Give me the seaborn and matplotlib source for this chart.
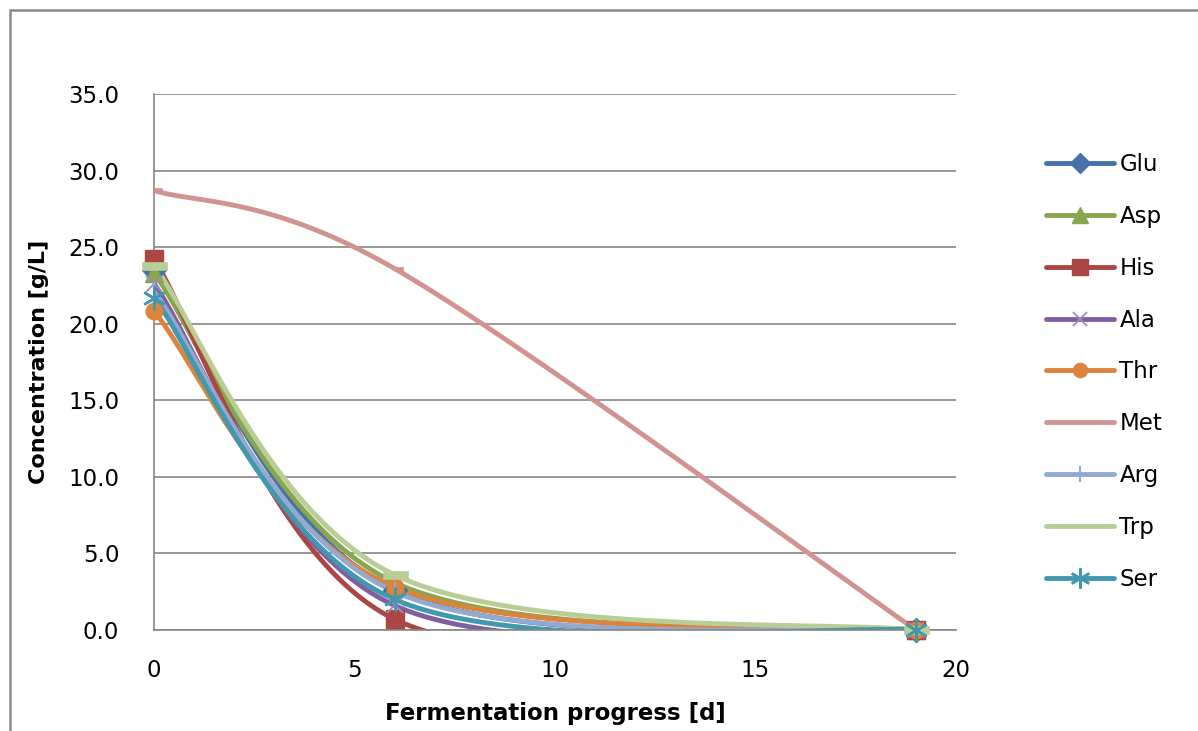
import numpy as np
import matplotlib
matplotlib.use("Agg")
import matplotlib.pyplot as plt
from matplotlib.lines import Line2D
from matplotlib.patches import Rectangle
import seaborn as sns

# Amino acid concentrations over the fermentation
days = [0, 6, 19]
series_names = ["Glu", "Asp", "His", "Ala", "Thr", "Met", "Arg", "Trp", "Ser"]
glu = [23.5, 2.6, 0.0]
asp = [23.3, 3.1, 0.0]
his = [24.2, 0.7, 0.0]
ala = [22.6, 1.6, 0.0]
thr = [20.8, 2.8, 0.0]
met = [28.7, 23.6, 0.0]
arg = [22.1, 2.5, 0.0]
trp = [23.8, 3.6, 0.0]
ser = [21.7, 2.0, 0.0]
series_values = [glu, asp, his, ala, thr, met, arg, trp, ser]
y_ticks = [0, 5, 10, 15, 20, 25, 30, 35]
x_ticks = [0, 5, 10, 15, 20]

colors = ["#4572A7", "#89A54E", "#AA4643", "#7E5FA0", "#DB843D",
          "#D19392", "#93A9CF", "#B9CD96", "#4198AF"]

dash_right = [(0, -0.25), (1, -0.25), (1, 0.25), (0, 0.25), (0, -0.25)]
dash_long = [(-1, -0.3), (1, -0.3), (1, 0.3), (-1, 0.3), (-1, -0.3)]
marker_styles = [
    dict(marker="D", ms=12, mfc=colors[0], mec=colors[0], mew=1),
    dict(marker="^", ms=13, mfc=colors[1], mec=colors[1], mew=1),
    dict(marker="s", ms=13, mfc=colors[2], mec=colors[2], mew=1),
    dict(marker="x", ms=12, mfc="none", mec="#9E8BC0", mew=1.3),
    dict(marker="o", ms=12, mfc=colors[4], mec=colors[4], mew=1),
    dict(marker=dash_right, ms=11, mfc=colors[5], mec=colors[5], mew=0.5),
    dict(marker="|", ms=14, mfc=colors[6], mec=colors[6], mew=1.5),
    dict(marker=dash_long, ms=18, mfc=colors[7], mec=colors[7], mew=0.5),
    dict(marker=(6, 2, 0), ms=17, mfc=colors[8], mec=colors[8], mew=1.8),
]
legend_markers = [True, True, True, True, True, False, True, False, True]

sns.set_style("white")
plt.rcParams["font.family"] = ["DejaVu Sans"]
plt.rcParams["text.color"] = "black"
plt.rcParams["axes.labelcolor"] = "black"

W, H = 1198, 731
fig = plt.figure(figsize=(W / 100, H / 100), dpi=100)
left, right, top, bottom = 154, 956, 94, 630
ax = fig.add_axes([left / W, 1 - bottom / H, (right - left) / W, (bottom - top) / H])

xmin, xmax, ymin, ymax = 0, 20, 0, 35
ax.set_xlim(xmin, xmax)
ax.set_ylim(ymin, ymax)
sx = (right - left) / (xmax - xmin)
sy = (bottom - top) / (ymax - ymin)


def smooth_curve(xs, ys, n=80):
    """Bezier smoothing through the points, computed in screen proportions."""
    P = np.column_stack([np.asarray(xs, float) * sx, np.asarray(ys, float) * sy])
    parts = []
    t = np.linspace(0, 1, n)[:, None]
    for i in range(len(P) - 1):
        p0 = P[i - 1] if i > 0 else P[i]
        p1, p2 = P[i], P[i + 1]
        p3 = P[i + 2] if i + 2 < len(P) else P[i + 1]
        c1 = p1 + (p2 - p0) / 6
        c2 = p2 - (p3 - p1) / 6
        seg = (1 - t) ** 3 * p1 + 3 * (1 - t) ** 2 * t * c1 + 3 * (1 - t) * t ** 2 * c2 + t ** 3 * p2
        parts.append(seg if i == 0 else seg[1:])
    out = np.vstack(parts)
    return out[:, 0] / sx, out[:, 1] / sy


lw = 3.5
for name, vals, col, ms in zip(series_names, series_values, colors, marker_styles):
    cx, cy = smooth_curve(days, vals)
    sns.lineplot(x=cx, y=cy, sort=False, estimator=None, color=col, lw=lw,
                 ax=ax, legend=False, solid_capstyle="round")
    ax.plot(days, vals, ls="none", clip_on=False, zorder=3, **ms)

grid_col = "#868686"
ax.set_yticks(y_ticks)
ax.set_xticks(x_ticks)
ax.set_yticklabels([f"{v:.1f}" for v in y_ticks])
ax.set_xticklabels([str(v) for v in x_ticks])
ax.yaxis.grid(True, color=grid_col, lw=1.2)
ax.xaxis.grid(False)
ax.set_axisbelow(True)
for s in ["top", "right"]:
    ax.spines[s].set_visible(False)
for s in ["left", "bottom"]:
    ax.spines[s].set_color(grid_col)
    ax.spines[s].set_linewidth(1.2)
ax.tick_params(axis="both", direction="out", length=5, width=1.2, color=grid_col,
               labelsize=16.5, labelcolor="black")
ax.tick_params(axis="y", pad=20)
ax.tick_params(axis="x", pad=16)
ax.set_xlabel("Fermentation progress [d]", fontsize=16.5, fontweight="bold",
              labelpad=14, color="black")
ax.set_ylabel("Concentration [g/L]", fontsize=16, fontweight="bold",
              labelpad=14, color="black")

handles = []
for name, col, ms, show in zip(series_names, colors, marker_styles, legend_markers):
    kw = dict(ms) if show else {}
    if show:
        kw["ms"] = kw["ms"] * 0.85
    handles.append(Line2D([], [], color=col, lw=lw, solid_capstyle="round", **kw))
fig.legend(handles, series_names, loc="center left",
           bbox_to_anchor=(1046 / W, 1 - 372 / H), frameon=False,
           fontsize=16.5, handlelength=2.95, handletextpad=0.25,
           labelspacing=1.26, borderpad=0, borderaxespad=0)

fig.patches.append(Rectangle((10 / W, -0.1), 1.2, 1 - 10 / H + 0.1,
                             transform=fig.transFigure, fill=False,
                             edgecolor="#8A8A8A", lw=1.8))

fig.savefig("out.png", dpi=100)
